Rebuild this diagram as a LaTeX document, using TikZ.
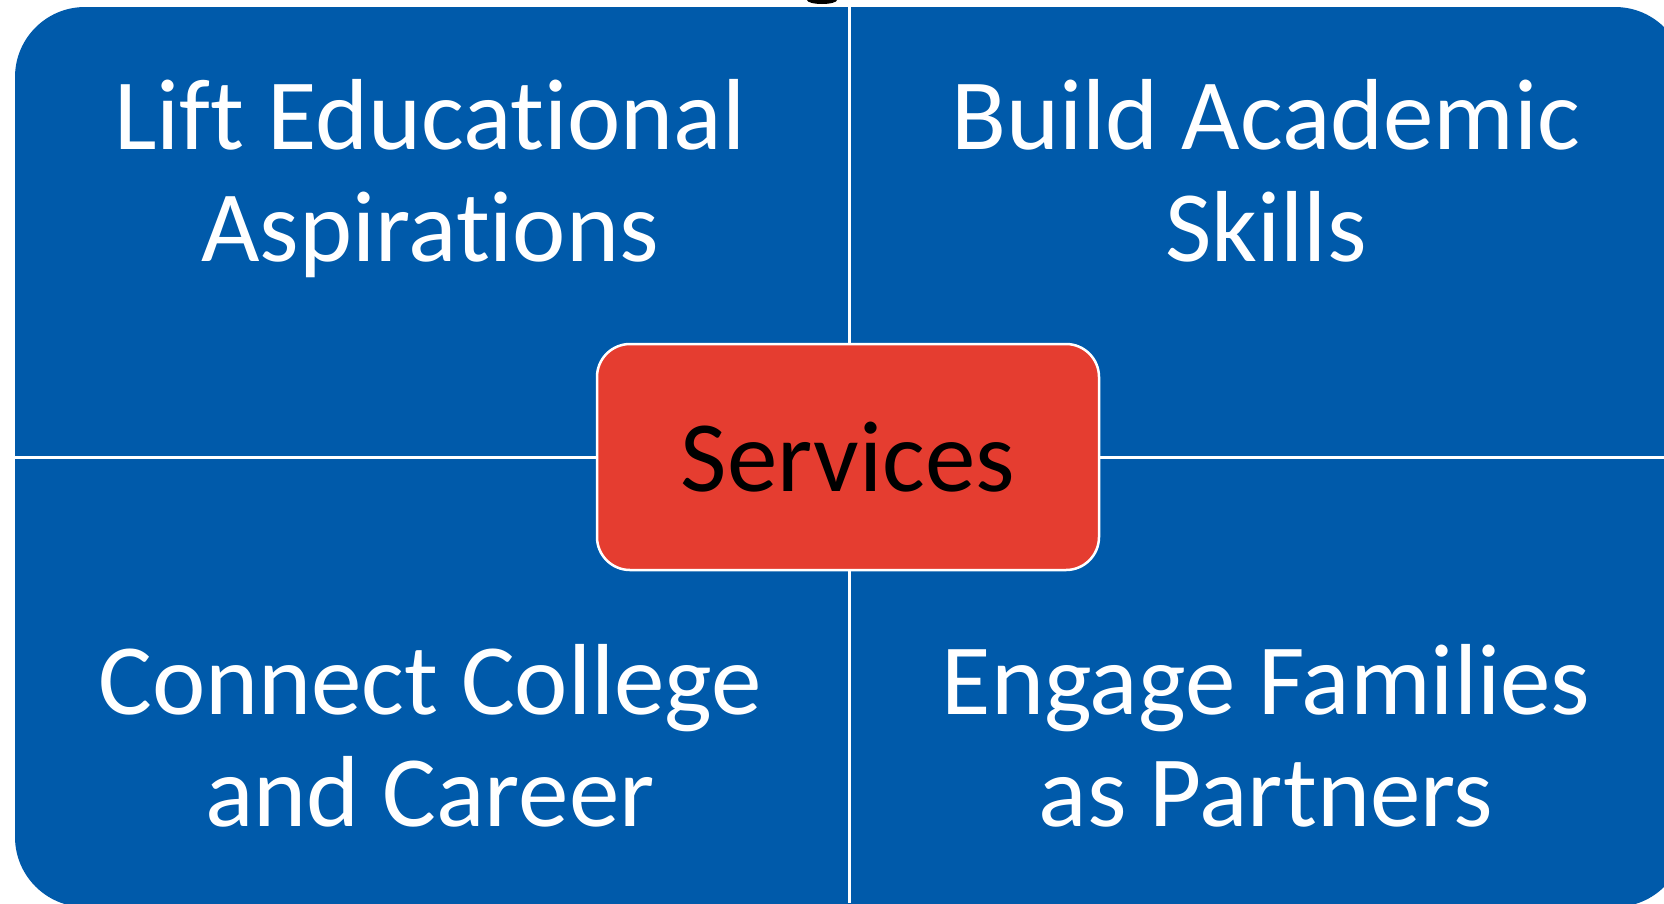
\documentclass[tikz,border=0pt]{standalone}
\usepackage{fontspec}
\setmainfont[Ligatures=NoCommon]{Carlito}
\definecolor{qblue}{RGB}{0,90,170}
\definecolor{qred}{RGB}{229,61,48}
\begin{document}
\begin{tikzpicture}[x=1pt,y=-1pt,
  quad/.style={text=white,align=center,inner sep=0pt,anchor=base,font=\fontsize{101}{112}\selectfont},
  core/.style={rectangle,rounded corners=33pt,fill=qred,draw=white,line width=2.5pt,
    minimum width=502pt,minimum height=226pt,inner sep=0pt,text=black,font=\fontsize{101}{112}\selectfont},
  divider/.style={draw=white,line width=3pt}]
\useasboundingbox (0,0) rectangle (1664,903);
\clip (0,0) rectangle (1664,903);
\fill[white] (0,0) rectangle (1664,903);
% partial glyph of cut-off title
\fill[black] (807,0) arc[start angle=180,end angle=360,x radius=15,y radius=-4] -- cycle;
\fill[qblue,rounded corners=70pt] (15,7) rectangle (1685,907);
\coordinate (vt) at (849,7);
\coordinate (vb) at (849,903);
\coordinate (hl) at (15,457);
\coordinate (hr) at (1664,457);
\draw[divider] (vt) -- (vb);
\draw[divider] (hl) -- (hr);
\node[quad] (tl) at (430,261) {Lift Educational\\Aspirations};
\node[quad] (tr) at (1266,261) {Build Academic\\Skills};
\node[quad] (bl) at (430,826) {Connect College\\and Career};
\node[quad] (br) at (1266,826) {Engage Families\\as Partners};
\node[core] (svc) at (848,457) {Services};
\end{tikzpicture}
\end{document}
